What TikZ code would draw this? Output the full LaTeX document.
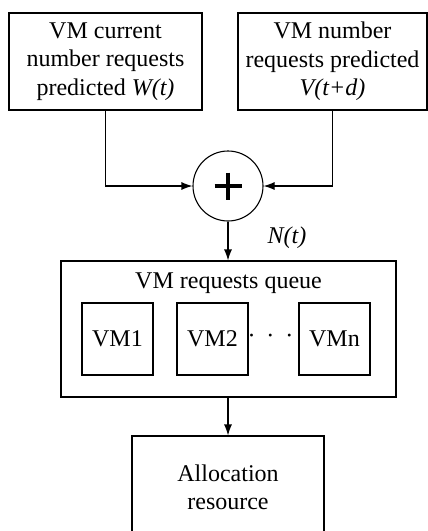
\documentclass[tikz,border=0pt]{standalone}
\usepackage{fontspec}
\setmainfont{Liberation Serif}
\usetikzlibrary{arrows.meta}
\tikzset{
  blockbox/.style={draw, line width=1.1pt, align=center, inner sep=2pt},
  vmbox/.style={draw, line width=1.1pt, minimum width=71pt, minimum height=72pt, inner sep=0pt},
  sumnode/.style={draw, circle, line width=1.1pt, minimum size=70pt, inner sep=0pt},
  link/.style={line width=1.1pt, -{Latex[length=11pt,width=8pt]}},
}

\begin{document}
\begin{tikzpicture}[x=1pt,y=-1pt,font=\fontsize{24}{28.5}\selectfont]
        \useasboundingbox (0,0) rectangle (428,531);
        % predicted inputs
        \node[blockbox, minimum width=193pt, minimum height=97pt] (wbox) at (105.5,61.5)
          {VM current\\number requests\\predicted \textit{W(t)}};
        \node[blockbox, minimum width=189pt, minimum height=97pt] (vbox) at (332.5,61.5)
          {VM number\\requests predicted\\\textit{V(t+d)}};

        % summing point
        \node[sumnode] (sum) at (228,186) {};
        \draw[line width=4pt] (214.5,186) -- (241.5,186);
        \draw[line width=4pt] (228,172.5) -- (228,199.5);

        % queue with the vms
        \node[blockbox, minimum width=335pt, minimum height=136pt] (queue) at (228.5,329) {};
        \node (qtitle) at (228.5,283) {VM requests queue};
        \node[vmbox] (vm1) at (117.5,339) {VM1};
        \node[vmbox] (vm2) at (212.5,339) {VM2};
        \node[vmbox] (vmn) at (334.5,339) {VMn};
        \node (dots) at (270.5,339) {·\hspace{11pt}·\hspace{11pt}·};

        % allocation
        \node[blockbox, minimum width=192pt, minimum height=103pt] (alloc) at (228,487.5)
          {Allocation\\resource};

        % arrows
        \draw[link] (wbox.south) |- (sum.west);
        \draw[link] (vbox.south) |- (sum.east);
        \draw[link] (sum.south) -- (sum.south |- queue.north);
        \node (nt) at (287,238) {\textit{N(t)}};
        \draw[link] (queue.south -| alloc.north) -- (alloc.north);
\end{tikzpicture}
\end{document}
